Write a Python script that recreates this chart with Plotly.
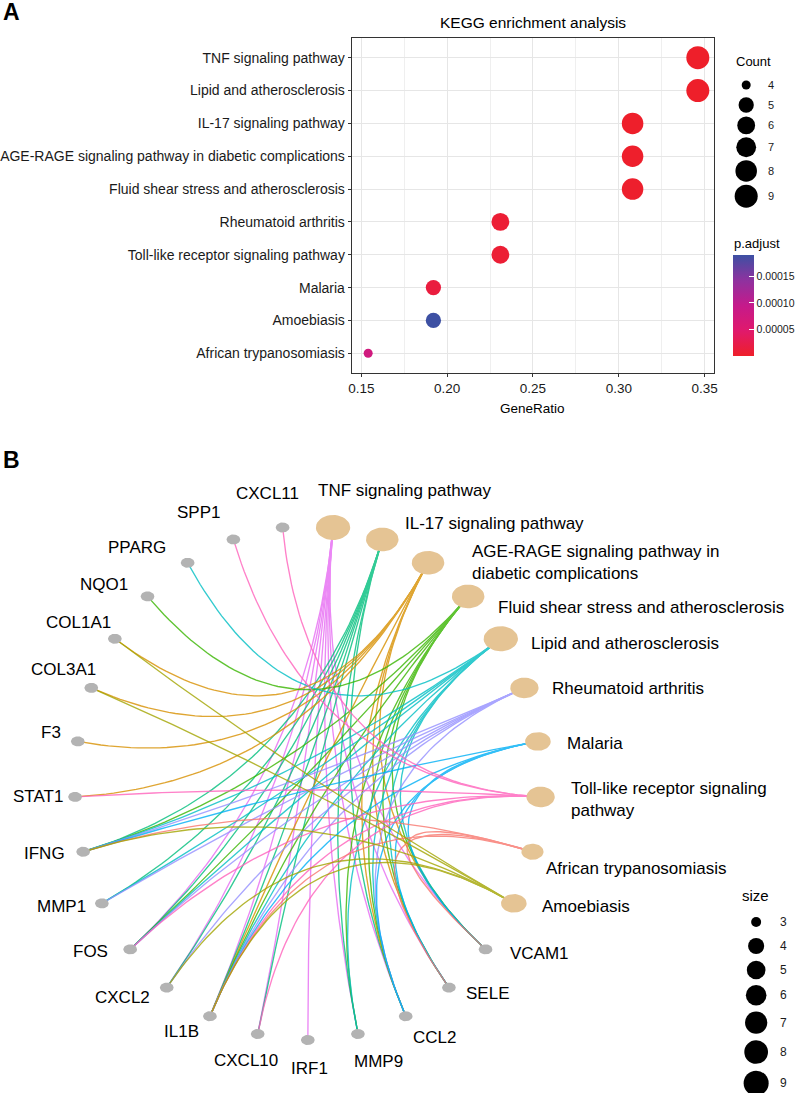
import numpy as np
import plotly.graph_objects as go

W, H = 800, 1093
FONT = "Liberation Sans, Arial, sans-serif"

# ---------------- Panel A data ----------------
kegg_terms = [
    "TNF signaling pathway",
    "Lipid and atherosclerosis",
    "IL-17 signaling pathway",
    "AGE-RAGE signaling pathway in diabetic complications",
    "Fluid shear stress and atherosclerosis",
    "Rheumatoid arthritis",
    "Toll-like receptor signaling pathway",
    "Malaria",
    "Amoebiasis",
    "African trypanosomiasis",
]
gene_ratio = [0.346, 0.346, 0.308, 0.308, 0.308, 0.231, 0.231, 0.192, 0.192, 0.154]
gene_count = [9, 9, 8, 8, 8, 6, 6, 5, 5, 4]
p_adjust = [2.0e-7, 3.0e-7, 1.0e-6, 1.5e-6, 2.5e-6, 8.0e-6, 8.0e-6, 1.5e-5, 1.9e-4, 7.5e-5]
ratio_ticks = [0.15, 0.20, 0.25, 0.30, 0.35]
ratio_tick_labels = ["0.15", "0.20", "0.25", "0.30", "0.35"]
count_legend = [4, 5, 6, 7, 8, 9]
padj_ticks = [5e-5, 1e-4, 1.5e-4]
padj_tick_labels = ["0.00005", "0.00010", "0.00015"]

# ---------------- Panel B data ----------------
net_pathways = [
    "TNF signaling pathway",
    "IL-17 signaling pathway",
    "AGE-RAGE signaling pathway in diabetic complications",
    "Fluid shear stress and atherosclerosis",
    "Lipid and atherosclerosis",
    "Rheumatoid arthritis",
    "Malaria",
    "Toll-like receptor signaling pathway",
    "African trypanosomiasis",
    "Amoebiasis",
]
net_genes = ["VCAM1", "SELE", "CCL2", "MMP9", "IRF1", "CXCL10", "IL1B", "CXCL2", "FOS",
             "MMP1", "IFNG", "STAT1", "F3", "COL3A1", "COL1A1", "NQO1", "PPARG", "SPP1", "CXCL11"]
net_members = {
    "TNF signaling pathway": ["FOS", "CXCL2", "IL1B", "CXCL10", "IRF1", "MMP9", "CCL2", "SELE", "VCAM1"],
    "IL-17 signaling pathway": ["FOS", "CXCL2", "IL1B", "CXCL10", "MMP9", "CCL2", "MMP1", "IFNG"],
    "AGE-RAGE signaling pathway in diabetic complications": ["COL1A1", "COL3A1", "F3", "STAT1", "IL1B", "CCL2", "SELE", "VCAM1"],
    "Fluid shear stress and atherosclerosis": ["NQO1", "FOS", "IFNG", "IL1B", "MMP9", "CCL2", "SELE", "VCAM1"],
    "Lipid and atherosclerosis": ["PPARG", "FOS", "IFNG", "MMP1", "IL1B", "MMP9", "CCL2", "SELE", "VCAM1"],
    "Rheumatoid arthritis": ["IFNG", "MMP1", "FOS", "CXCL2", "IL1B", "CCL2"],
    "Malaria": ["IFNG", "IL1B", "CCL2", "SELE", "VCAM1"],
    "Toll-like receptor signaling pathway": ["CXCL11", "SPP1", "STAT1", "FOS", "IL1B", "CXCL10"],
    "African trypanosomiasis": ["IFNG", "IL1B", "SELE", "VCAM1"],
    "Amoebiasis": ["COL1A1", "COL3A1", "IFNG", "CXCL2", "IL1B"],
}
size_legend = [3, 4, 5, 6, 7, 8, 9]
gene_node_size = 3

# ---------------- styles ----------------
edge_colors = {
    "African trypanosomiasis": "#F8766D",
    "AGE-RAGE signaling pathway in diabetic complications": "#D89000",
    "Amoebiasis": "#A3A500",
    "Fluid shear stress and atherosclerosis": "#39B600",
    "IL-17 signaling pathway": "#00BF7D",
    "Lipid and atherosclerosis": "#00BFC4",
    "Malaria": "#00B0F6",
    "Rheumatoid arthritis": "#9590FF",
    "TNF signaling pathway": "#E76BF3",
    "Toll-like receptor signaling pathway": "#FF62BC",
}
label_wrap = {
    "AGE-RAGE signaling pathway in diabetic complications": "AGE-RAGE signaling pathway in<br>diabetic complications",
    "Toll-like receptor signaling pathway": "Toll-like receptor signaling<br>pathway",
}
# label nudges in pixels (dx right, dy down)
gene_label_nudge = {
    "CXCL11": (-15, -34), "SPP1": (-35, -27), "PPARG": (-51, -15), "NQO1": (-44, -12),
    "COL1A1": (-36, -16), "COL3A1": (-28, -18), "F3": (-27, -9), "STAT1": (-37, 0),
    "IFNG": (-39, 2), "MMP1": (-40, 3), "FOS": (-40, 2), "CXCL2": (-44, 10),
    "IL1B": (-28, 15), "CXCL10": (-12, 27), "IRF1": (2, 28), "MMP9": (21, 28),
    "CCL2": (29, 21), "SELE": (39, 6), "VCAM1": (54, 4),
}
path_label_nudge = {
    "TNF signaling pathway": (-17, -37),
    "IL-17 signaling pathway": (21, -16),
    "AGE-RAGE signaling pathway in diabetic complications": (42, 0),
    "Fluid shear stress and atherosclerosis": (28, 11),
    "Lipid and atherosclerosis": (28, 5),
    "Rheumatoid arthritis": (26, 1),
    "Malaria": (27, 2),
    "Toll-like receptor signaling pathway": (28, 3),
    "African trypanosomiasis": (12, 17),
    "Amoebiasis": (26, 3),
}
padj_scale = [[0, "#EE1F2A"], [0.25, "#E0196C"], [0.5, "#C51A8B"], [0.75, "#8E329F"], [1, "#3D50A3"]]


def px_x(px):
    return px / W


def px_y(py):
    return 1 - py / H


def count_px(c):
    lo, hi = min(count_legend), max(count_legend)
    return 9 + 14 * np.sqrt((c - lo) / (hi - lo))


def size_px(s):
    lo, hi = min(size_legend), max(size_legend)
    return 10 + 15 * np.sqrt((s - lo) / (hi - lo))


fig = go.Figure()
annotations = []

# ================= Panel A =================
A_L, A_R, A_T, A_B = 353, 717, 38, 373
xmin, xmax = min(gene_ratio), max(gene_ratio)
xpad = 0.05 * (xmax - xmin)

fig.add_trace(go.Scatter(
    x=gene_ratio, y=kegg_terms, mode="markers", xaxis="x", yaxis="y",
    marker=dict(size=[count_px(c) for c in gene_count], color=p_adjust,
                colorscale=padj_scale, cmin=min(p_adjust), cmax=max(p_adjust),
                line=dict(width=0), opacity=1,
                showscale=True,
                colorbar=dict(x=px_x(736), xanchor="left", xref="paper",
                              y=px_y(305.5), yanchor="middle", yref="paper",
                              len=101, lenmode="pixels", thickness=21, thicknessmode="pixels",
                              outlinewidth=0, xpad=0, ypad=0,
                              tickvals=padj_ticks, ticktext=padj_tick_labels,
                              ticks="inside", ticklen=5, tickcolor="white", tickwidth=1,
                              tickfont=dict(size=10.5, color="#1a1a1a", family=FONT))),
    showlegend=False, hoverinfo="skip"))

# Count legend (pixel helper axis)
keys = [max(20, count_px(c) + 3) for c in count_legend]
centers = []
ypos = 85 - keys[0] / 2
for k in keys:
    centers.append(ypos + k / 2)
    ypos += k
fig.add_trace(go.Scatter(
    x=[749] * len(count_legend), y=centers, mode="markers", xaxis="x3", yaxis="y3",
    marker=dict(size=[count_px(c) for c in count_legend], color="#000000", opacity=1,
                line=dict(width=0)),
    showlegend=False, hoverinfo="skip"))
for c, cy in zip(count_legend, centers):
    annotations.append(dict(x=px_x(769), y=px_y(cy), xref="paper", yref="paper", text=str(c),
                            showarrow=False, xanchor="left", yanchor="middle",
                            font=dict(size=11, color="#1a1a1a", family=FONT)))
annotations.append(dict(x=px_x(737), y=px_y(62), xref="paper", yref="paper", text="Count",
                        showarrow=False, xanchor="left", yanchor="middle",
                        font=dict(size=13, color="black", family=FONT)))
annotations.append(dict(x=px_x(735), y=px_y(243), xref="paper", yref="paper", text="p.adjust",
                        showarrow=False, xanchor="left", yanchor="middle",
                        font=dict(size=13, color="black", family=FONT)))
annotations.append(dict(x=px_x((A_L + A_R) / 2), y=px_y(23), xref="paper", yref="paper",
                        text="KEGG enrichment analysis", showarrow=False,
                        xanchor="center", yanchor="middle",
                        font=dict(size=15.5, color="black", family=FONT)))
annotations.append(dict(x=px_x((A_L + A_R) / 2), y=px_y(408), xref="paper", yref="paper",
                        text="GeneRatio", showarrow=False, xanchor="center", yanchor="middle",
                        font=dict(size=13.5, color="black", family=FONT)))
annotations.append(dict(x=px_x(1), y=px_y(12), xref="paper", yref="paper", text="<b>A</b>",
                        showarrow=False, xanchor="left", yanchor="middle",
                        font=dict(size=23, color="black", family=FONT)))

# ================= Panel B =================
B_CX, B_CY, B_RX, B_RY = 309, 783, 234, 257
B_TOP = 440
x2_range = [(0 - B_CX) / B_RX, (W - B_CX) / B_RX]
y2_range = [(B_CY - H) / B_RY, (B_CY - B_TOP) / B_RY]

nodes = net_pathways + net_genes
n = len(nodes)
ang = np.deg2rad(90 - (np.arange(n) + 0.5) * 360.0 / n)
pos = {nd: (np.cos(a), np.sin(a)) for nd, a in zip(nodes, ang)}
node_size = {p: len(net_members[p]) for p in net_pathways}
node_size.update({g: gene_node_size for g in net_genes})

# edges: quadratic bezier with control at circle centre
t = np.linspace(0, 1, 60)
for p in net_pathways:
    xs, ys = [], []
    for g in net_members[p]:
        x0, y0 = pos[g]
        x1, y1 = pos[p]
        xs += list((1 - t) ** 2 * x0 + t ** 2 * x1) + [None]
        ys += list((1 - t) ** 2 * y0 + t ** 2 * y1) + [None]
    fig.add_trace(go.Scatter(x=xs, y=ys, mode="lines", xaxis="x2", yaxis="y2",
                             line=dict(color=edge_colors[p], width=1.35), opacity=0.8,
                             showlegend=False, hoverinfo="skip"))

# nodes as ellipses
th = np.linspace(0, 2 * np.pi, 40)


def ellipse_path(names):
    xs, ys = [], []
    for nd in names:
        h = size_px(node_size[nd])
        w = 1.38 * h
        cx, cy = pos[nd]
        xs += list(cx + (w / 2 / B_RX) * np.cos(th)) + [None]
        ys += list(cy + (h / 2 / B_RY) * np.sin(th)) + [None]
    return xs, ys


gx, gy = ellipse_path(net_genes)
fig.add_trace(go.Scatter(x=gx, y=gy, mode="lines", fill="toself", fillcolor="#B3B3B3",
                         line=dict(width=0, color="#B3B3B3"), xaxis="x2", yaxis="y2",
                         showlegend=False, hoverinfo="skip"))
px_, py_ = ellipse_path(net_pathways)
fig.add_trace(go.Scatter(x=px_, y=py_, mode="lines", fill="toself", fillcolor="#E5C494",
                         line=dict(width=0, color="#E5C494"), xaxis="x2", yaxis="y2",
                         showlegend=False, hoverinfo="skip"))

for g in net_genes:
    dx, dy = gene_label_nudge[g]
    annotations.append(dict(x=pos[g][0], y=pos[g][1], xref="x2", yref="y2", text=g,
                            xshift=dx, yshift=-dy, showarrow=False,
                            xanchor="center", yanchor="middle",
                            font=dict(size=17, color="black", family=FONT)))
for p in net_pathways:
    dx, dy = path_label_nudge[p]
    annotations.append(dict(x=pos[p][0], y=pos[p][1], xref="x2", yref="y2",
                            text=label_wrap.get(p, p), xshift=dx, yshift=-dy,
                            showarrow=False, xanchor="left", yanchor="middle", align="left",
                            font=dict(size=17, color="black", family=FONT)))

# size legend
skeys = [max(24, 1.28 * size_px(s)) for s in size_legend]
scenters = []
ypos = 922 - skeys[0] / 2
for k in skeys:
    scenters.append(ypos + k / 2)
    ypos += k
fig.add_trace(go.Scatter(
    x=[759] * len(size_legend), y=scenters, mode="markers", xaxis="x3", yaxis="y3",
    marker=dict(size=[size_px(s) for s in size_legend], color="#000000", opacity=1,
                line=dict(width=0)),
    showlegend=False, hoverinfo="skip"))
for s, cy in zip(size_legend, scenters):
    annotations.append(dict(x=px_x(786), y=px_y(cy), xref="paper", yref="paper", text=str(s),
                            showarrow=False, xanchor="center", yanchor="middle",
                            font=dict(size=12, color="#1a1a1a", family=FONT)))
annotations.append(dict(x=px_x(743), y=px_y(895), xref="paper", yref="paper", text="size",
                        showarrow=False, xanchor="left", yanchor="middle",
                        font=dict(size=15, color="black", family=FONT)))
annotations.append(dict(x=px_x(1), y=px_y(460), xref="paper", yref="paper", text="<b>B</b>",
                        showarrow=False, xanchor="left", yanchor="middle",
                        font=dict(size=23, color="black", family=FONT)))

# ================= Layout =================
fig.update_layout(
    template="none",
    width=W, height=H,
    margin=dict(l=0, r=0, t=0, b=0, pad=0),
    paper_bgcolor="white", plot_bgcolor="rgba(0,0,0,0)",
    font=dict(family=FONT, color="black"),
    showlegend=False,
    annotations=annotations,
    xaxis=dict(domain=[px_x(A_L), px_x(A_R)], range=[xmin - xpad, xmax + xpad],
               anchor="y", tickvals=ratio_ticks, ticktext=ratio_tick_labels,
               ticks="outside", ticklen=3, tickcolor="#333333", tickwidth=1,
               tickfont=dict(size=13.5, color="#1a1a1a", family=FONT),
               showgrid=True, gridcolor="#E6E6E6", gridwidth=1.1,
               minor=dict(tickvals=[0.175, 0.225, 0.275, 0.325], showgrid=True,
                          gridcolor="#EFEFEF", gridwidth=0.7, ticks=""),
               zeroline=False, showline=True, mirror=True, linecolor="#333333", linewidth=1,
               automargin=False, fixedrange=True),
    yaxis=dict(domain=[px_y(A_B), px_y(A_T)], anchor="x", type="category",
               categoryorder="array", categoryarray=kegg_terms[::-1],
               range=[-0.6, len(kegg_terms) - 0.4],
               ticks="outside", ticklen=3, tickcolor="#333333", tickwidth=1,
               tickfont=dict(size=14, color="#1a1a1a", family=FONT),
               showgrid=True, gridcolor="#E6E6E6", gridwidth=1.1,
               zeroline=False, showline=True, mirror=True, linecolor="#333333", linewidth=1,
               automargin=False, fixedrange=True),
    xaxis2=dict(domain=[0, 1], range=x2_range, anchor="y2", visible=False, fixedrange=True),
    yaxis2=dict(domain=[0, px_y(B_TOP)], range=y2_range, anchor="x2", visible=False, fixedrange=True),
    xaxis3=dict(domain=[0, 1], range=[0, W], anchor="y3", visible=False, fixedrange=True),
    yaxis3=dict(domain=[0, 1], range=[H, 0], anchor="x3", visible=False, fixedrange=True),
)

fig.write_html(
    "out.html",
    config={"displayModeBar": False},
    post_script="document.body.style.margin='0px';document.body.style.padding='0px';"
                "document.documentElement.style.overflow='hidden';",
)
